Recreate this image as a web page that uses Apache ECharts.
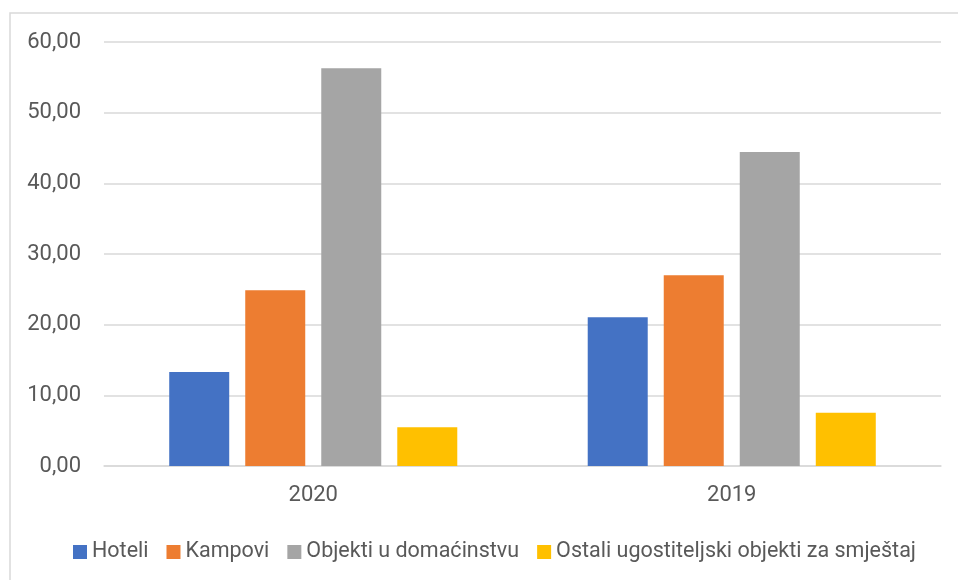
<!DOCTYPE html>
<html style="height: 100%">
   <head>
       <meta charset="utf-8">
   </head>
   <body style="height: 100%; margin: 0; background: #fff">
       <div id="container" style="width: 958px; height: 580px"></div>
       <script type="text/javascript" src="https://cdn.jsdelivr.net/npm/echarts@6/dist/echarts.min.js"></script>
       <script type="text/javascript">
var years = ['2020', '2019'];
var hoteli = [13.30, 21.04];
var kampovi = [24.86, 26.98];
var objekti = [56.27, 44.43];
var ostali = [5.47, 7.55];
var yTicks = [0, 10, 20, 30, 40, 50, 60];

var textColor = '#595959';
var font = 'Roboto';

var dom = document.getElementById("container");
var myChart = echarts.init(dom);

function bar(name, data, color) {
    return {
        name: name,
        type: 'bar',
        data: data,
        barWidth: 60,
        barGap: '26.7%',
        itemStyle: { color: color }
    };
}

option = {
    animation: false,
    textStyle: { fontFamily: font, color: textColor },
    graphic: [{
        type: 'rect',
        shape: { x: 10, y: 13, width: 980, height: 600 },
        style: { fill: 'none', stroke: '#d9d9d9', lineWidth: 1.5 },
        silent: true
    }],
    legend: {
        bottom: 12,
        left: 68,
        itemWidth: 14,
        itemHeight: 14,
        itemGap: 18,
        icon: 'rect',
        textStyle: { fontFamily: font, fontSize: 21.5, color: textColor },
        data: ['Hoteli', 'Kampovi', 'Objekti u domaćinstvu', 'Ostali ugostiteljski objekti za smještaj']
    },
    grid: {
        left: 104,
        right: 17,
        top: 42,
        bottom: 114
    },
    xAxis: {
        type: 'category',
        data: years,
        axisLine: { lineStyle: { color: '#d9d9d9', width: 1.5 } },
        axisTick: { show: false },
        axisLabel: { fontFamily: font, fontSize: 22, color: textColor, margin: 18 }
    },
    yAxis: {
        type: 'value',
        min: yTicks[0],
        max: yTicks[yTicks.length - 1],
        interval: 10,
        axisLine: { show: false },
        axisTick: { show: false },
        splitLine: { lineStyle: { color: '#d9d9d9', width: 1.5 } },
        axisLabel: {
            fontFamily: font,
            fontSize: 22,
            color: textColor,
            margin: 23,
            formatter: function (v) { return v.toFixed(2).replace('.', ','); }
        }
    },
    series: [
        bar('Hoteli', hoteli, '#4472c4'),
        bar('Kampovi', kampovi, '#ed7d31'),
        bar('Objekti u domaćinstvu', objekti, '#a5a5a5'),
        bar('Ostali ugostiteljski objekti za smještaj', ostali, '#ffc000')
    ]
};
myChart.setOption(option, true);
       </script>
   </body>
</html>
